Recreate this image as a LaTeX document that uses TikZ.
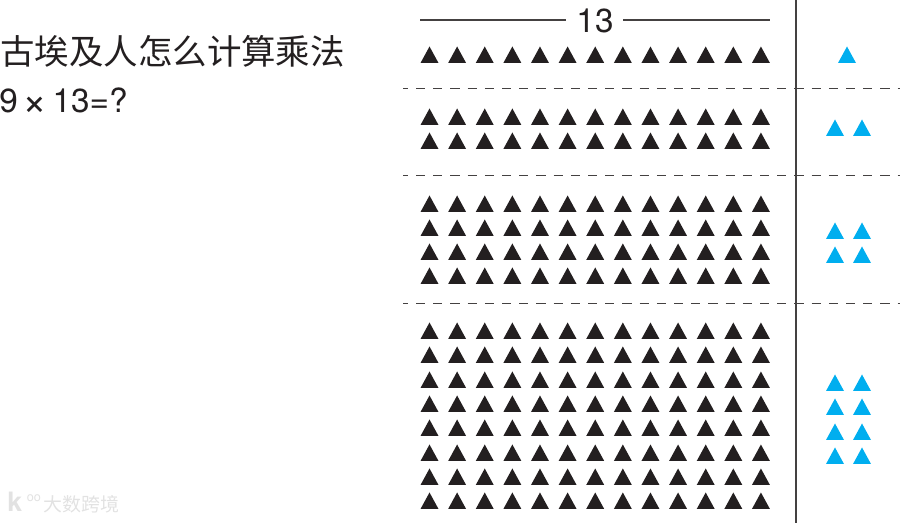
\documentclass[tikz,border=0pt]{standalone}
\usepackage{fontspec}
\setmainfont{TeX Gyre Heros}
\newfontfamily\cjk{Noto Sans CJK SC}
\definecolor{ink}{HTML}{231F20}
\definecolor{sky}{HTML}{00AEEF}
\definecolor{wm}{HTML}{E2E2E2}
\tikzset{
  tri/.pic={\fill[pic actions] (-9,0) -- (0,-16.5) -- (9,0) -- cycle;},
  rule/.style={draw=ink!85, line width=1.2pt},
  dash rule/.style={draw=ink!85, line width=1.45pt, dash pattern=on 6.9pt off 6pt, dash phase=3.15pt},
  lab/.style={inner sep=0pt, anchor=base west, text=ink},
}
\begin{document}
\begin{tikzpicture}[x=0.75pt,y=-0.75pt]
\useasboundingbox (0,0) rectangle (900,523);
% left text
\node[lab, font=\cjk\fontsize{25.85}{30}\selectfont] (title) at (0,65) {古埃及人怎么计算乘法};
\node[lab, font=\fontsize{25}{30}\selectfont] (eq) at (-1,113) {9\kern3.6pt\raisebox{-2.2pt}{\fontsize{32}{32}\selectfont ×}\kern3.8pt 13=?};
% 13 header
\node[inner sep=0pt, text=ink, font=\fontsize{25}{30}\selectfont] (n13) at (595,20.5) {13};
\coordinate (hl) at (420,20);
\coordinate (hr) at (770,20);
\draw[rule] (hl) -- (566,20);
\draw[rule] (623,20) -- (hr);
% vertical rule
\coordinate (vt) at (795.5,0);
\coordinate (vb) at (795.5,523);
\draw[draw=ink!85, line width=1.5pt] (vt) -- (vb);
% dashed rules
\foreach \y in {88.5,175.5,303.5}
  \draw[dash rule] (403,\y) -- (900,\y);
% black triangles
\foreach \y in {63,125,149,212,236,260,284,339,363,388,412,436,461,485,509}
  \foreach \i in {0,...,12}
    \pic[fill=ink] at ({429.5+27.62*\i},\y) {tri};
% blue triangles
\foreach \x/\y in {847/63, 835/136,862/136, 835/239,862/239,835/263,862/263,
  835/391,862/391,835/415,862/415,835/440,862/440,835/464,862/464}
  \pic[fill=sky] at (\x,\y) {tri};
% watermark
\node[lab, text=wm, font=\cjk\fontsize{14.2}{16}\selectfont] (wmk) at (43,512) {大数跨境};
\node[lab, text=wm, font=\bfseries\fontsize{20}{22}\selectfont] (wmlogo) at (7,512) {k};
\node[lab, text=wm, font=\fontsize{9.5}{11}\selectfont] (wmoo) at (26.5,502) {oo};
\end{tikzpicture}
\end{document}
